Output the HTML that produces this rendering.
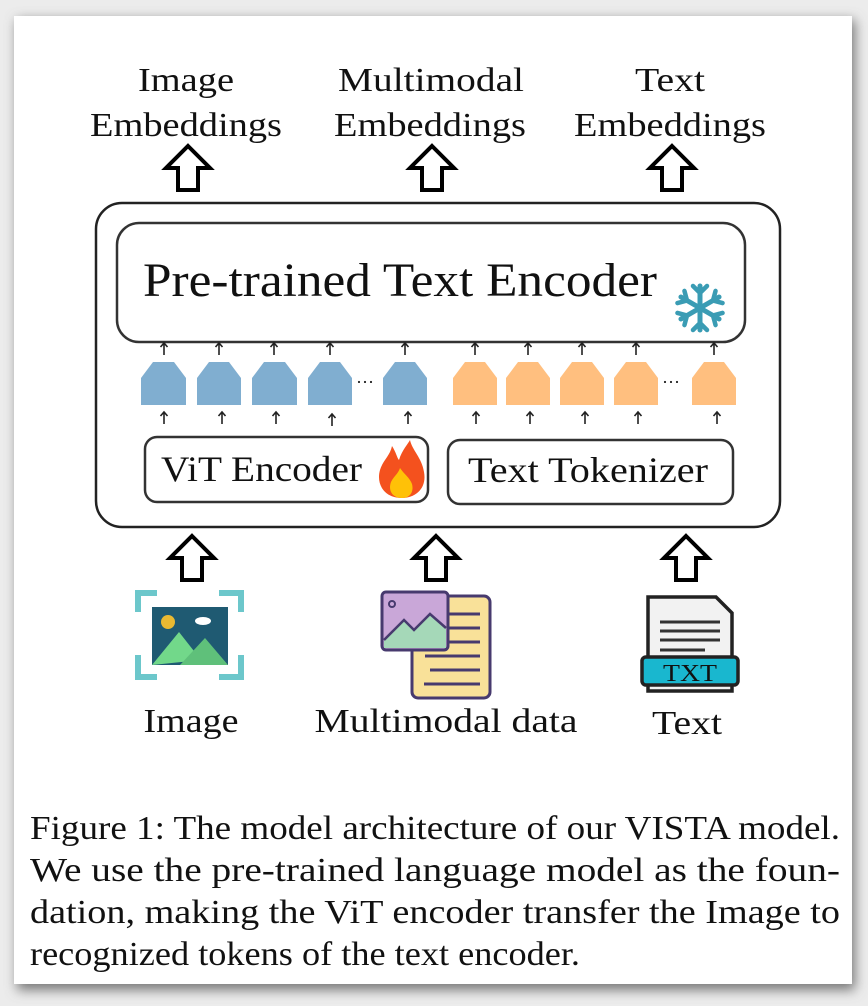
<!DOCTYPE html>
<html><head><meta charset="utf-8"><style>
html,body{margin:0;padding:0;background:#e6e6e6;}
svg{display:block;}
text{font-family:"Liberation Serif",serif;fill:#111;}
</style></head><body>
<svg width="868" height="1006" viewBox="0 0 868 1006" xmlns="http://www.w3.org/2000/svg">
<defs>
<filter id="sh" x="-10%" y="-10%" width="120%" height="120%"><feGaussianBlur stdDeviation="6"/></filter>
<g id="harrow"><path d="M0,-22 L22,0 L10,0 L10,22 L-10,22 L-10,0 L-22,0 Z" fill="#fff" stroke="#000" stroke-width="4" stroke-linejoin="miter"/></g>
<g id="sarrow"><path d="M0,0 L0,12 M-3.5,4 L0,0 L3.5,4" stroke="#222" stroke-width="1.6" fill="none"/></g>
</defs>
<rect x="0" y="0" width="868" height="1006" fill="#ececec"/>
<rect x="17" y="20" width="838" height="970" fill="#777" filter="url(#sh)"/>
<rect x="14" y="16" width="838" height="968" fill="#fff"/>

<g font-size="34" text-anchor="middle">
<text x="186" y="91" textLength="96" lengthAdjust="spacingAndGlyphs">Image</text>
<text x="186" y="136" textLength="192" lengthAdjust="spacingAndGlyphs">Embeddings</text>
<text x="431" y="91" textLength="186" lengthAdjust="spacingAndGlyphs">Multimodal</text>
<text x="430" y="136" textLength="192" lengthAdjust="spacingAndGlyphs">Embeddings</text>
<text x="670" y="91" textLength="70" lengthAdjust="spacingAndGlyphs">Text</text>
<text x="670" y="136" textLength="192" lengthAdjust="spacingAndGlyphs">Embeddings</text>
</g>
<use href="#harrow" x="188" y="168"/>
<use href="#harrow" x="432" y="168"/>
<use href="#harrow" x="672" y="168"/>

<rect x="96" y="203" width="684" height="324" rx="26" fill="#fff" stroke="#222" stroke-width="2.5"/>
<rect x="117" y="223" width="628" height="119" rx="22" fill="#fff" stroke="#333" stroke-width="2.5"/>
<text x="143" y="296" font-size="48" textLength="514" lengthAdjust="spacingAndGlyphs">Pre-trained Text Encoder</text>
<g transform="translate(700,308)" stroke="#3a9cb4" stroke-width="5" stroke-linecap="round" fill="none">
<g id="arm"><line x1="0" y1="0" x2="0" y2="-22"/><path d="M-7,-22 L0,-15 L7,-22" stroke-width="4.5"/></g>
<use href="#arm" transform="rotate(60)"/><use href="#arm" transform="rotate(120)"/><use href="#arm" transform="rotate(180)"/><use href="#arm" transform="rotate(240)"/><use href="#arm" transform="rotate(300)"/>
<circle r="5" fill="#3a9cb4" stroke="none"/>
</g>

<g fill="#80aed0">
<path d="M141,405 L141,378 L153,362 L174,362 L186,378 L186,405Z"/>
<path d="M197,405 L197,378 L209,362 L229,362 L241,378 L241,405Z"/>
<path d="M252,405 L252,378 L264,362 L285,362 L297,378 L297,405Z"/>
<path d="M308,405 L308,378 L320,362 L340,362 L352,378 L352,405Z"/>
<path d="M383,405 L383,378 L395,362 L415,362 L427,378 L427,405Z"/>
</g>
<g fill="#ffbf7f">
<path d="M453,405 L453,378 L465,362 L485,362 L497,378 L497,405Z"/>
<path d="M506,405 L506,378 L518,362 L538,362 L550,378 L550,405Z"/>
<path d="M560,405 L560,378 L572,362 L592,362 L604,378 L604,405Z"/>
<path d="M614,405 L614,378 L626,362 L646,362 L658,378 L658,405Z"/>
<path d="M692,405 L692,378 L704,362 L724,362 L736,378 L736,405Z"/>
</g>
<text x="356" y="388" font-size="18">···</text>
<text x="662" y="388" font-size="18">···</text>
<g>
<use href="#sarrow" x="164" y="343"/><use href="#sarrow" x="219" y="343"/><use href="#sarrow" x="274" y="343"/><use href="#sarrow" x="330" y="343"/><use href="#sarrow" x="405" y="343"/>
<use href="#sarrow" x="475" y="343"/><use href="#sarrow" x="528" y="343"/><use href="#sarrow" x="582" y="343"/><use href="#sarrow" x="636" y="343"/><use href="#sarrow" x="714" y="343"/>
<use href="#sarrow" x="164" y="412"/><use href="#sarrow" x="222" y="412"/><use href="#sarrow" x="276" y="412"/><use href="#sarrow" x="332" y="414"/><use href="#sarrow" x="408" y="412"/>
<use href="#sarrow" x="476" y="412"/><use href="#sarrow" x="530" y="412"/><use href="#sarrow" x="585" y="412"/><use href="#sarrow" x="638" y="412"/><use href="#sarrow" x="717" y="412"/>
</g>

<rect x="145" y="437" width="283" height="65" rx="12" fill="#fff" stroke="#333" stroke-width="2.5"/>
<text x="161" y="481" font-size="36" textLength="201" lengthAdjust="spacingAndGlyphs">ViT Encoder</text>
<g transform="translate(402,470)">
<path d="M0,28 C-18,28 -26,14 -22,0 C-19,-10 -12,-14 -10,-24 C-6,-18 -5,-12 -3,-10 C0,-20 6,-26 8,-30 C10,-20 20,-12 22,2 C25,18 14,28 0,28Z" fill="#f4511e"/>
<path d="M0,28 C-10,28 -14,20 -11,12 C-8,6 -4,4 -2,-2 C2,4 8,8 10,14 C12,22 8,28 0,28Z" fill="#ffc107"/>
</g>
<rect x="448" y="440" width="285" height="64" rx="12" fill="#fff" stroke="#333" stroke-width="2.5"/>
<text x="468" y="482" font-size="36" textLength="240" lengthAdjust="spacingAndGlyphs">Text Tokenizer</text>

<use href="#harrow" x="192" y="558"/>
<use href="#harrow" x="436" y="558"/>
<use href="#harrow" x="686" y="558"/>

<g transform="translate(135,590)">
<g fill="none" stroke="#6cc7cb" stroke-width="6">
<path d="M3,22 L3,3 L22,3"/><path d="M84,3 L106,3 L106,22"/><path d="M3,65 L3,87 L22,87"/><path d="M84,87 L106,87 L106,65"/>
</g>
<rect x="17" y="17" width="76" height="58" fill="#1f5a72"/>
<circle cx="33" cy="32" r="7" fill="#e9b932"/>
<ellipse cx="68" cy="31" rx="8" ry="4" fill="#fff"/>
<path d="M17,75 L44,42 L66,70 Z" fill="#72d88a"/>
<path d="M45,75 L70,48 L93,75 Z" fill="#5fc07a"/>
</g>
<g transform="translate(380,590)">
<rect x="32" y="6" width="78" height="102" rx="6" fill="#f9e199" stroke="#473a6e" stroke-width="3"/>
<g stroke="#473a6e" stroke-width="3">
<line x1="48" y1="24" x2="100" y2="24"/><line x1="55" y1="38" x2="100" y2="38"/><line x1="48" y1="52" x2="100" y2="52"/><line x1="45" y1="66" x2="100" y2="66"/><line x1="50" y1="80" x2="100" y2="80"/><line x1="44" y1="94" x2="100" y2="94"/>
</g>
<rect x="2" y="2" width="66" height="58" rx="4" fill="#c9a7d8" stroke="#473a6e" stroke-width="3"/>
<path d="M4,50 L24,30 L34,40 L50,24 L66,38 L66,58 L4,58Z" fill="#a5d8b8"/>
<path d="M4,50 L24,30 L34,40 L50,24 L66,38" fill="none" stroke="#473a6e" stroke-width="2.5"/>
<circle cx="12" cy="14" r="3" fill="none" stroke="#473a6e" stroke-width="2"/>
</g>
<g transform="translate(640,595)">
<path d="M8,2 L76,2 L92,18 L92,96 L8,96 Z" fill="#f2f2f2" stroke="#222" stroke-width="3.5"/>
<g stroke="#333" stroke-width="3"><line x1="20" y1="27" x2="80" y2="27"/><line x1="20" y1="36" x2="80" y2="36"/><line x1="20" y1="45" x2="80" y2="45"/><line x1="20" y1="55" x2="65" y2="55"/></g>
<rect x="2" y="62" width="96" height="28" rx="4" fill="#19b7cf" stroke="#222" stroke-width="3.5"/>
<text x="50" y="86" font-family="Liberation Sans, sans-serif" font-size="24" text-anchor="middle" textLength="54" lengthAdjust="spacingAndGlyphs">TXT</text>
</g>

<g font-size="34" text-anchor="middle">
<text x="191" y="732" textLength="95" lengthAdjust="spacingAndGlyphs">Image</text>
<text x="446" y="732" textLength="263" lengthAdjust="spacingAndGlyphs">Multimodal data</text>
<text x="687" y="734" textLength="70" lengthAdjust="spacingAndGlyphs">Text</text>
</g>

<g font-size="34">
<text x="30" y="839" textLength="810" lengthAdjust="spacingAndGlyphs">Figure 1: The model architecture of our VISTA model.</text>
<text x="30" y="881" textLength="810" lengthAdjust="spacingAndGlyphs">We use the pre-trained language model as the foun-</text>
<text x="30" y="923" textLength="810" lengthAdjust="spacingAndGlyphs">dation, making the ViT encoder transfer the Image to</text>
<text x="30" y="965" textLength="550" lengthAdjust="spacingAndGlyphs">recognized tokens of the text encoder.</text>
</g>
</svg>
</body></html>
